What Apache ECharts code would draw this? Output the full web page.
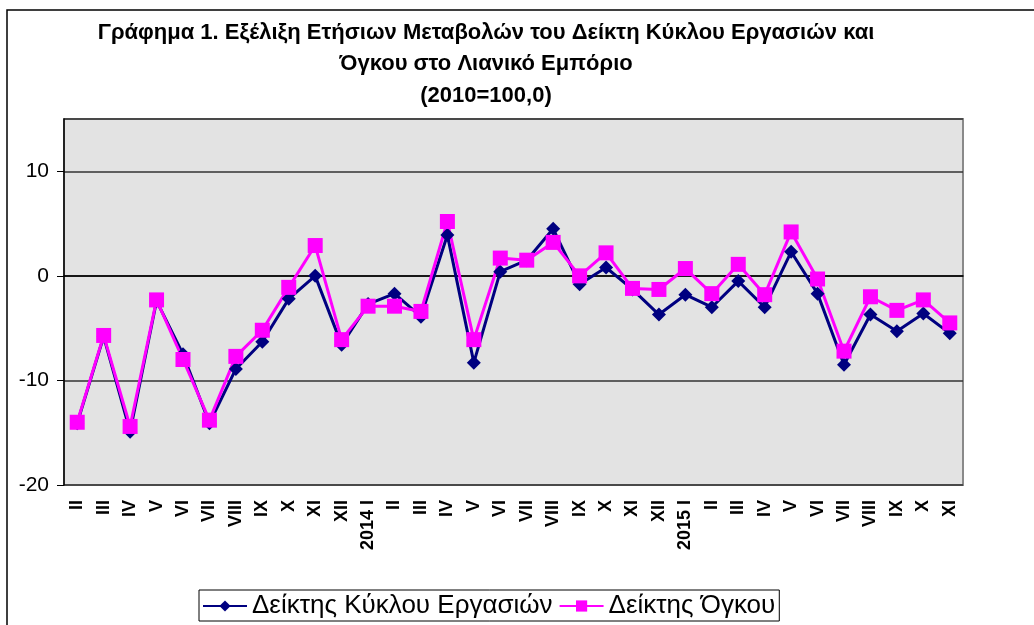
<!DOCTYPE html>
<html>
<head>
<meta charset="utf-8">
<title>Γράφημα 1</title>
<script src="https://cdn.jsdelivr.net/npm/echarts@6/dist/echarts.min.js"></script>
<style>
    html, body { margin: 0; padding: 0; background: #fff; }
    #main { width: 1034px; height: 625px; }
</style>
</head>
<body>
<div id="main"></div>
<script type="text/javascript">
    // months from II/2013 to XI/2015
    var months = ['II', 'III', 'IV', 'V', 'VI', 'VII', 'VIII', 'IX', 'X', 'XI', 'XII',
        '2014 I', 'II', 'III', 'IV', 'V', 'VI', 'VII', 'VIII', 'IX', 'X', 'XI', 'XII',
        '2015 I', 'II', 'III', 'IV', 'V', 'VI', 'VII', 'VIII', 'IX', 'X', 'XI'];

    var turnover = [-14.1, -5.8, -14.9, -2.4, -7.5, -14.1, -8.9, -6.3, -2.2, 0.0, -6.6,
        -2.7, -1.7, -3.9, 3.9, -8.3, 0.4, 1.5, 4.5, -0.8, 0.8, -1.3, -3.7,
        -1.8, -3.0, -0.5, -3.0, 2.3, -1.7, -8.5, -3.7, -5.3, -3.6, -5.5];

    var volume = [-14.0, -5.7, -14.4, -2.3, -8.0, -13.8, -7.7, -5.2, -1.1, 2.9, -6.1,
        -2.9, -2.9, -3.4, 5.2, -6.1, 1.7, 1.5, 3.2, 0.0, 2.2, -1.2, -1.3,
        0.7, -1.7, 1.1, -1.8, 4.2, -0.3, -7.2, -2.0, -3.3, -2.3, -4.5];

    var seriesNames = ['Δείκτης Κύκλου Εργασιών', 'Δείκτης Όγκου'];

    var myChart = echarts.init(document.getElementById('main'));
    var font = 'Liberation Sans, Arial, sans-serif';

    var option = {
        animation: false,
        textStyle: {fontFamily: font},
        title: {
            text: 'Γράφημα 1. Εξέλιξη Ετήσιων Μεταβολών του Δείκτη Κύκλου Εργασιών και\nΌγκου στο Λιανικό Εμπόριο\n(2010=100,0)',
            left: 481,
            top: 12,
            textAlign: 'center',
            textStyle: {
                fontFamily: font,
                fontSize: 22,
                fontWeight: 'bold',
                color: '#000',
                lineHeight: 31.5
            }
        },
        graphic: [{
            type: 'rect',
            shape: {x: 7, y: 10, width: 1040, height: 640},
            style: {fill: 'none', stroke: '#000', lineWidth: 1.5},
            silent: true,
            z: -1
        }],
        legend: {
            data: seriesNames,
            left: 199,
            top: 590,
            itemWidth: 44,
            itemHeight: 14,
            itemGap: 6,
            padding: [3, 4, 2, 3],
            borderColor: '#000',
            borderWidth: 1,
            textStyle: {fontFamily: font, fontSize: 26, color: '#000'}
        },
        grid: {
            left: 64,
            top: 119,
            right: 71,
            bottom: 140,
            show: true,
            backgroundColor: '#e3e3e3',
            borderColor: '#8a8a8a',
            borderWidth: 2
        },
        xAxis: {
            type: 'category',
            data: months,
            boundaryGap: true,
            axisLine: {lineStyle: {color: '#000', width: 1.5}},
            axisTick: {length: 6, lineStyle: {color: '#000'}},
            axisLabel: {
                interval: 0,
                rotate: 90,
                margin: 15,
                fontFamily: font,
                fontSize: 18,
                fontWeight: 'bold',
                color: '#000'
            }
        },
        yAxis: {
            type: 'value',
            min: -20,
            max: 15,
            interval: 10,
            axisLine: {show: true, lineStyle: {color: '#000', width: 1.5}},
            axisTick: {show: true, length: 7, lineStyle: {color: '#000'}},
            axisLabel: {
                showMaxLabel: false,
                margin: 15,
                fontFamily: font,
                fontSize: 21,
                color: '#000'
            },
            splitLine: {lineStyle: {color: '#333', width: 1.5}}
        },
        series: [
            {
                name: seriesNames[0],
                type: 'line',
                data: turnover,
                symbol: 'diamond',
                symbolSize: 14,
                itemStyle: {color: '#000080'},
                lineStyle: {color: '#000080', width: 3}
            },
            {
                name: seriesNames[1],
                type: 'line',
                data: volume,
                symbol: 'rect',
                symbolSize: 15,
                itemStyle: {color: '#ff00ff'},
                lineStyle: {color: '#ff00ff', width: 3}
            }
        ]
    };

    myChart.setOption(option);
</script>
</body>
</html>
